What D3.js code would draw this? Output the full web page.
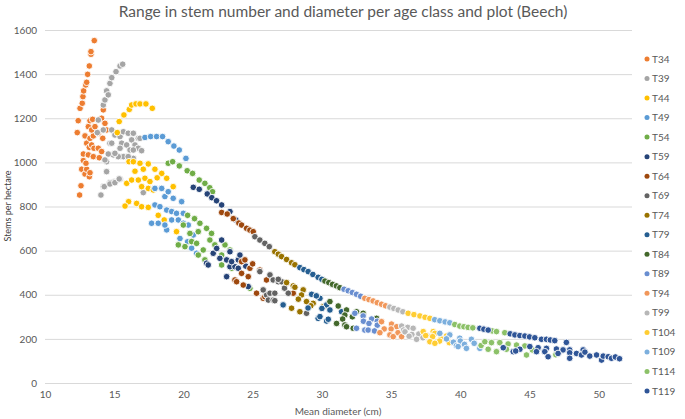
<!DOCTYPE html>
<html><head><meta charset="utf-8">
<script src="https://cdn.jsdelivr.net/npm/d3@7"></script>
<style>body{margin:0;background:#fff}svg{display:block}text{font-family:Lato,"Open Sans",sans-serif}</style>
</head><body><svg id="c" width="685" height="419"></svg>
<script>
const seriesNames = ["T34","T39","T44","T49","T54","T59","T64","T69","T74","T79","T84","T89","T94","T99","T104","T109","T114","T119"];
const seriesColors = ["#ED7D31","#A5A5A5","#FFC000","#5B9BD5","#70AD47","#264478","#9E480E","#636363","#997300","#255E91","#43682B","#698ED0","#F1975A","#B7B7B7","#FFCD33","#7CAFDD","#8CC168","#2F5597"];
const xTicks = [10,15,20,25,30,35,40,45,50];
const yTicks = [0,200,400,600,800,1000,1200,1400,1600];

const T34 = [[12.33,1135],[12.4,1189],[12.53,1245],[12.69,1268],[12.74,1298],[12.79,1324],[12.94,1351],[13.01,1363],[13.08,1399],[13.2,1437],[13.32,1490],[13.32,1502],[13.56,1552],[12.5,852],[12.6,894],[12.65,969],[12.89,947],[13.01,969],[13.2,935],[13.25,953],[12.77,1008],[12.96,996],[12.77,1038],[13.13,1034],[13.49,1026],[13.01,1087],[13.2,1068],[13.37,1079],[13.54,1064],[12.89,1120],[13.25,1109],[13.49,1120],[13.13,1162],[13.37,1147],[13.61,1162],[13.25,1189],[13.44,1195],[13.85,1132],[14.17,1109],[13.85,1064],[14.09,1049],[13.92,1021],[14.09,1200],[14.21,1238],[14.33,1177],[14.45,1147]];
const T39 = [[14.21,1260],[14.33,1283],[14.45,1324],[14.57,1306],[14.69,1358],[14.82,1384],[15.13,1411],[15.42,1437],[15.61,1445],[13.85,1192],[14.21,1147],[13.78,1135],[14.82,1147],[14.69,1087],[15.05,1124],[15.42,1117],[15.66,1139],[16.01,1132],[15.54,1087],[15.42,1064],[15.9,1079],[16.26,1102],[16.5,1079],[16.14,1056],[15.66,1026],[15.29,1026],[14.93,1034],[14.57,1038],[14.45,1003],[16.38,1018],[16.74,1064],[16.74,1109],[16.38,1132],[16.86,1109],[14.82,1087],[15.05,1041],[16.38,1056],[16.98,1053],[14.33,1011],[16.01,1026],[14.45,958],[15.05,913],[14.69,908],[15.42,923],[14.21,890],[14.04,852],[14.28,890],[14.69,902],[15.05,908],[15.36,925],[17.1,863]];
const T44 = [[15.22,1135],[15.36,1185],[15.7,1215],[16.09,1240],[16.26,1260],[16.57,1265],[16.86,1265],[17.29,1265],[17.75,1245],[16.07,1003],[16.38,1003],[16.86,996],[17.46,993],[17.1,969],[17.94,969],[18.43,950],[18.79,928],[15.9,905],[16.26,920],[16.74,920],[17.22,928],[17.58,913],[17.46,882],[16.98,890],[17.82,875],[19.26,890],[16.04,822],[15.78,802],[16.62,814],[16.98,799],[17.46,796],[18.18,760],[18.61,739],[19.5,686],[16.5,960],[18.1,930]];
const T49 = [[17.22,1113],[17.63,1117],[18.06,1117],[18.49,1117],[18.9,1094],[19.31,1074],[19.7,1056],[20.18,1018],[17.94,882],[18.43,882],[18.66,845],[18.9,867],[19.26,837],[19.87,822],[17.94,807],[18.3,799],[18.79,784],[19.15,777],[19.5,769],[19.99,769],[17.7,724],[18.18,724],[18.79,694],[19.15,739],[19.63,739],[19.99,724],[20.35,716],[20.71,671],[20.59,611],[20.95,588],[18.66,716],[19.75,655],[20.3,640]];
const T54 = [[18.9,996],[19.22,1003],[19.7,984],[20.27,962],[20.66,950],[21.14,920],[21.55,905],[21.9,885],[22.1,867],[19.99,716],[20.47,678],[21.19,724],[21.67,701],[22.03,678],[21.07,686],[19.63,626],[20.11,618],[20.59,641],[20.95,633],[21.43,603],[21.07,580],[21.55,558],[21.91,648],[22.27,626],[22.76,580],[23.0,626],[23.36,603],[23.48,520],[22.76,535],[20.3,760],[20.8,745],[24.8,429]];
const T59 = [[20.71,887],[21.14,878],[21.72,857],[22.05,840],[22.39,826],[22.76,807],[23.36,777],[23.79,739],[21.67,543],[21.79,535],[22.15,588],[22.63,565],[23.12,558],[23.12,482],[23.36,527],[23.72,527],[23.48,550],[23.96,558],[24.08,580],[22.76,648],[23.36,595],[23.96,520],[24.68,437],[22.4,610],[24.5,530]];
const T64 = [[22.76,773],[23.16,766],[23.6,745],[24.0,725],[24.2,716],[24.56,701],[24.8,693],[25.04,686],[24.2,550],[24.44,558],[24.8,520],[25.52,512],[23.72,467],[23.84,459],[24.2,497],[24.32,444],[24.68,482],[25.28,407],[25.76,384],[25.88,391],[26.0,467],[25.0,540],[27.45,452],[27.93,407]];
const T69 = [[25.16,663],[25.52,648],[25.88,633],[26.2,618],[26.0,399],[26.25,490],[26.48,467],[26.85,459],[27.09,459],[26.85,470],[25.76,422],[26.25,407],[26.6,407],[27.57,407],[26.13,376],[26.48,376],[26.6,373],[27.3,430],[28.89,316],[25.52,505]];
const T74 = [[26.6,595],[26.85,584],[27.09,573],[27.45,560],[27.81,545],[28.05,536],[27.45,455],[27.93,440],[28.65,422],[28.05,434],[28.53,399],[28.3,380],[28.89,369],[29.37,361],[29.2,350],[30.1,346],[27.81,339],[28.41,323]];
const T79 = [[28.41,523],[28.7,514],[29.01,505],[29.35,492],[29.73,479],[30.0,470],[29.26,402],[29.86,384],[29.6,395],[30.34,354],[30.58,331],[31.42,323],[30.0,338],[29.0,340],[27.2,354],[29.73,293],[29.86,301],[30.34,281],[30.46,289]];
const T84 = [[30.22,462],[30.5,455],[30.77,447],[31.05,440],[31.3,432],[30.58,369],[31.18,349],[31.78,331],[31.66,308],[32.2,300],[32.5,323],[32.98,316],[31.5,290],[31.06,270],[31.66,263],[31.78,255],[32.26,248],[33.95,293]];
const T89 = [[31.6,425],[31.9,418],[32.2,410],[32.5,402],[32.8,393],[32.38,316],[32.98,304],[33.59,290],[33.0,280],[34.0,280],[33.4,270],[34.0,262],[32.5,248],[33.1,240],[33.34,240],[33.8,236]];
const T94 = [[33.1,384],[33.4,378],[33.7,372],[34.0,364],[34.31,357],[34.6,350],[34.31,278],[35.03,267],[35.4,255],[34.5,245],[35.0,245],[35.5,228],[34.19,228],[34.91,218],[35.15,210],[35.76,210]];
const T99 = [[34.91,344],[35.2,338],[35.51,331],[35.85,323],[35.76,258],[36.2,252],[36.59,248],[35.9,240],[36.0,232],[36.5,220],[37.0,222],[36.3,212],[37.3,205],[36.84,198],[37.6,215]];
const T104 = [[36.23,316],[36.65,310],[37.08,304],[37.45,298],[37.8,293],[37.32,233],[38.04,233],[38.16,225],[37.5,215],[38.0,210],[39.0,213],[38.6,200],[38.5,190],[37.8,187],[38.16,180],[39.2,183]];
const T109 = [[38.15,287],[38.52,282],[38.9,277],[39.24,273],[38.52,225],[39.24,218],[39.96,203],[39.0,200],[40.0,190],[39.5,185],[40.8,198],[41.0,180],[40.3,175],[39.72,169],[39.84,165],[40.44,157],[41.41,157]];
const T114 = [[39.6,265],[39.96,258],[40.26,255],[40.56,252],[40.9,250],[42.3,236],[42.61,233],[43.21,228],[41.5,170],[41.77,187],[42.25,183],[42.85,183],[43.45,177],[44.06,172],[44.66,168],[42.01,153],[42.61,142],[43.33,153],[44.78,127],[45.2,150],[46.9,128]];
const T119 = [[41.41,248],[41.7,244],[42.01,240],[43.6,223],[43.94,218],[44.3,215],[44.66,213],[45.0,209],[45.38,205],[45.86,198],[46.22,198],[46.5,195],[46.82,192],[47.66,184],[45.02,165],[45.62,160],[46.22,157],[46.94,154],[47.42,150],[47.9,150],[48.87,150],[43.1,160],[43.82,142],[44.3,153],[44.0,145],[45.5,142],[46.1,142],[46.34,119],[47.06,134],[47.9,137],[47.9,112],[48.39,134],[48.75,127],[49.0,140],[49.35,122],[49.84,127],[50.2,104],[50.32,122],[50.68,119],[50.92,112],[51.2,118],[51.5,110]];

const seriesData = [T34,T39,T44,T49,T54,T59,T64,T69,T74,T79,T84,T89,T94,T99,T104,T109,T114,T119];

const svg = d3.select("#c");
const x = d3.scaleLinear().domain([10,52.4]).range([45,632]);
const y = d3.scaleLinear().domain([0,1600]).range([383,30]);

// gridlines
const grid = svg.append("g").attr("transform","translate(45,0)")
  .call(d3.axisLeft(y).tickValues(yTicks).tickSize(-(632-45)).tickFormat(""));
grid.select(".domain").remove();
grid.selectAll("line").attr("stroke","#D9D9D9").attr("stroke-width",1);

// y labels
const ya = svg.append("g").attr("transform","translate(45,0)")
  .call(d3.axisLeft(y).tickValues(yTicks).tickSize(0).tickPadding(8).tickFormat(d3.format("d")));
ya.select(".domain").remove();
ya.selectAll("text").attr("fill","#595959").style("font-size","10px");

// x labels
const xa = svg.append("g").attr("transform","translate(0,383)")
  .call(d3.axisBottom(x).tickValues(xTicks).tickSize(0).tickPadding(8).tickFormat(d3.format("d")));
xa.select(".domain").remove();
xa.selectAll("text").attr("fill","#595959").style("font-size","10px");

// points
seriesData.forEach((data,i)=>{
  svg.append("g").selectAll("circle").data(data).join("circle")
    .attr("cx",d=>x(d[0])).attr("cy",d=>y(d[1])).attr("r",3.3)
    .attr("fill",seriesColors[i]).attr("stroke","#fff").attr("stroke-width",0.9);
});

// title
svg.append("text").attr("x",343).attr("y",17).attr("text-anchor","middle")
  .attr("fill","#595959").style("font-size","15.5px").text("Range in stem number and diameter per age class and plot (Beech)");
// axis titles
svg.append("text").attr("x",338).attr("y",415).attr("text-anchor","middle")
  .attr("fill","#595959").style("font-size","10px").text("Mean diameter (cm)");
svg.append("text").attr("transform","translate(11,206) rotate(-90)").attr("text-anchor","middle")
  .attr("fill","#404040").style("font-size","9px").text("Stems per hectare");

// legend
const lg = svg.append("g");
seriesNames.forEach((n,i)=>{
  const yy = 59 + i*19.53;
  lg.append("circle").attr("cx",647).attr("cy",yy).attr("r",2.5).attr("fill",seriesColors[i]);
  lg.append("text").attr("x",652).attr("y",yy).attr("dy","0.35em").attr("fill","#595959").style("font-size","10px").text(n);
});
</script></body></html>
